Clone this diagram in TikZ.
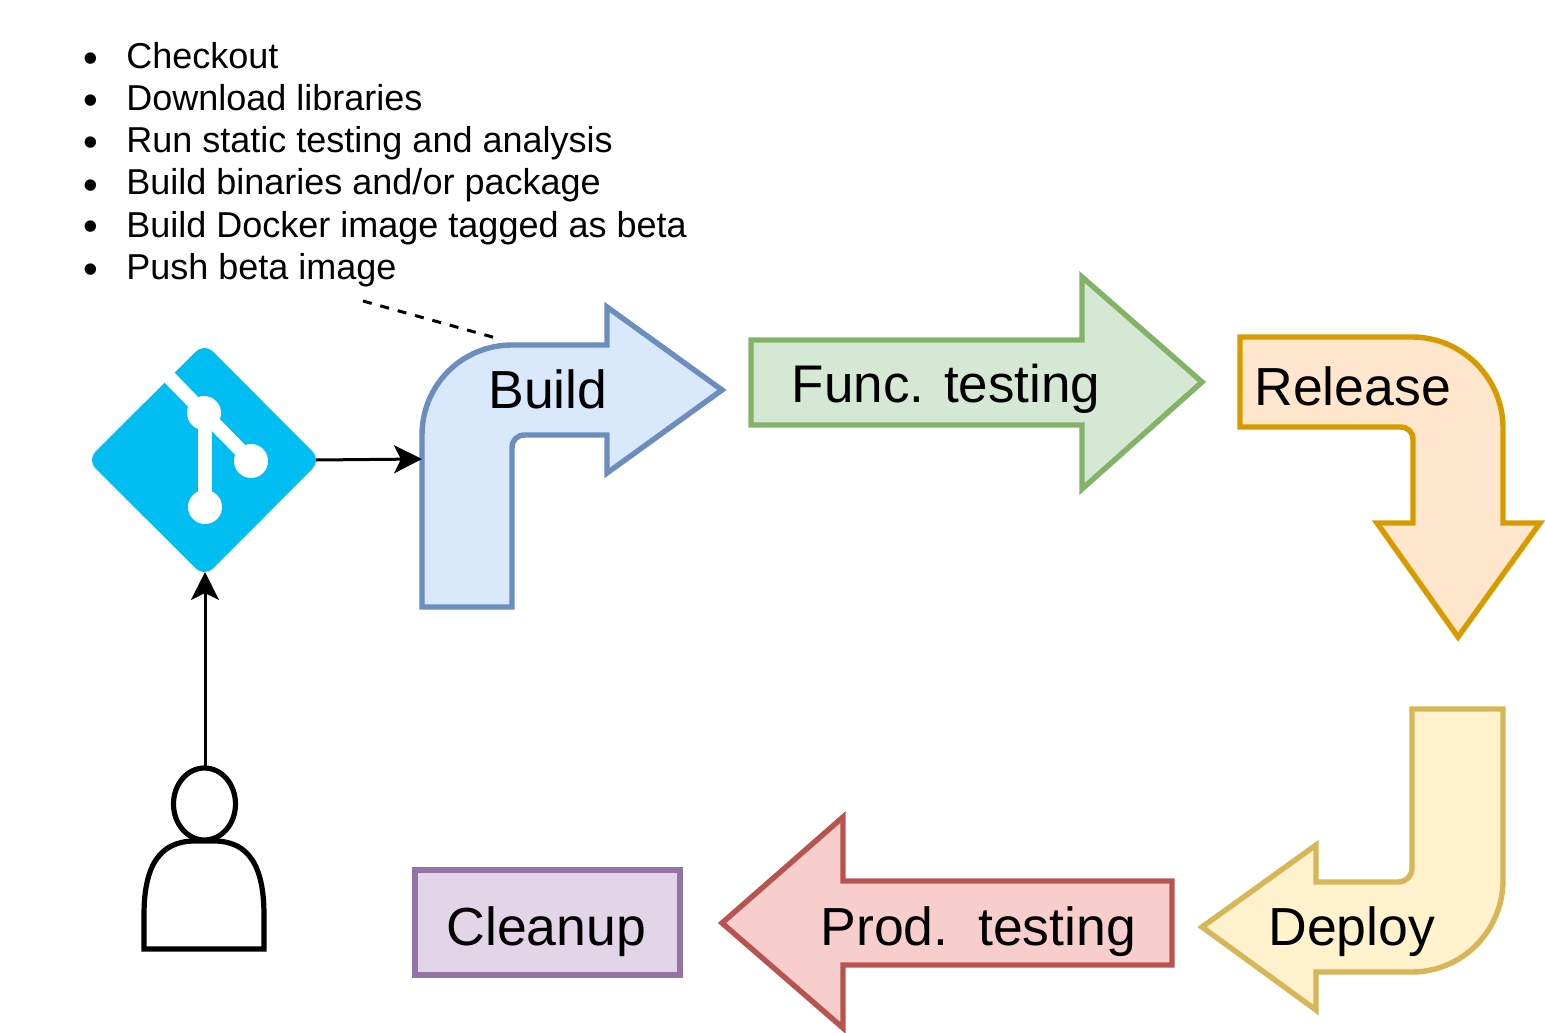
\documentclass[tikz,border=0pt]{standalone}
\usepackage{fontspec}
\setmainfont{Liberation Sans}
\usetikzlibrary{arrows.meta}
\definecolor{bluef}{HTML}{DAE8FC}\definecolor{blued}{HTML}{6C8EBF}
\definecolor{greenf}{HTML}{D5E8D4}\definecolor{greend}{HTML}{82B366}
\definecolor{orangef}{HTML}{FFE6CC}\definecolor{oranged}{HTML}{D79B00}
\definecolor{yellowf}{HTML}{FFF2CC}\definecolor{yellowd}{HTML}{D6B656}
\definecolor{redf}{HTML}{F8CECC}\definecolor{redd}{HTML}{B85450}
\definecolor{purplef}{HTML}{E1D5E7}\definecolor{purpled}{HTML}{9673A6}
\definecolor{gitblue}{HTML}{00BEF2}
\tikzset{
  shapeline/.style={line width=2.7pt,line join=miter,miter limit=10},
  biglabel/.style={anchor=base west,inner sep=0pt,font=\fontsize{26.8}{30}\selectfont},
  listlabel/.style={anchor=base west,inner sep=0pt,font=\fontsize{18}{21}\selectfont},
  bulletmark/.style={anchor=base,inner sep=0pt,font=\fontsize{21}{24}\selectfont},
  connector/.style={line width=1.5pt,-{Stealth[length=14pt,width=14pt,inset=3.5pt]}},
  note/.style={line width=1.5pt,dash pattern=on 4.5pt off 4.5pt}
}
\begin{document}
\begin{tikzpicture}[x=0.5pt,y=-0.5pt]
\useasboundingbox (0,0) rectangle (1545,1032);
% list
\foreach \i/\yy/\t in {1/69/{Checkout},2/111/{Download libraries},3/153/{Run static testing and analysis},4/195/{Build binaries and/or package},5/237/{Build Docker image tagged as beta},6/279/{Push beta image}}{
  \node[bulletmark] (b\i) at (91,\yy+4) {•};
  \node[listlabel] (l\i) at (126,\yy) {\t};
}
% build
\draw[shapeline,draw=blued,fill=bluef] (422,607) -- (422,435) .. controls (422,385) and (462,345) .. (512,345) -- (607,345) -- (607,307) -- (722,390) -- (607,473) -- (607,435) -- (525,435) .. controls (517,435) and (512,440) .. (512,448) -- (512,607) -- cycle;
\node[biglabel] (build) at (488,408) {Build};
% func
\draw[shapeline,draw=greend,fill=greenf] (751,340) -- (1082,340) -- (1082,277) -- (1202,382) -- (1082,489) -- (1082,425) -- (751,425) -- cycle;
\node[biglabel,font=\fontsize{26.5}{30}\selectfont] (func) at (791.5,402) {Func. testing};
% release
\draw[shapeline,draw=oranged,fill=orangef] (1240,337) -- (1412,337) .. controls (1462,337) and (1503,378) .. (1503,428) -- (1503,523) -- (1540,523) -- (1458,637) -- (1377,523) -- (1413,523) -- (1413,440) .. controls (1413,432) and (1408,427) .. (1400,427) -- (1240,427) -- cycle;
\node[biglabel] (release) at (1254,405) {Release};
% deploy
\draw[shapeline,draw=yellowd,fill=yellowf] (1412,709) -- (1503,709) -- (1503,880) .. controls (1503,931) and (1462,972) .. (1412,972) -- (1316,972) -- (1316,1010) -- (1202,927) -- (1316,845) -- (1316,882) -- (1398,882) .. controls (1406,882) and (1412,876) .. (1412,868) -- cycle;
\node[biglabel] (deploy) at (1268,945) {Deploy};
% prod
\draw[shapeline,draw=redd,fill=redf] (1172,881) -- (843,881) -- (843,817) -- (722,923) -- (843,1028) -- (843,965) -- (1172,965) -- cycle;
\node[biglabel] (prod) at (820,945) {Prod.\ \ testing};
% cleanup
\draw[shapeline,draw=purpled,fill=purplef] (415,870) rectangle (680,975);
\node[biglabel] (cleanup) at (446,945) {Cleanup};
% git logo
\fill[gitblue,rounded corners=6pt] (204.5,343) -- (321,460) -- (204.5,577) -- (87,460) -- cycle;
\begin{scope}[white]
  \draw[line width=7pt] (169,377) -- (204,413) -- (251,461);
  \draw[line width=7pt] (205,413) -- (205,507);
  \fill (204,413) circle [radius=8.5pt];
  \fill (251,461) circle [radius=8.5pt];
  \fill (205,507) circle [radius=8.5pt];
\end{scope}
% person
\draw[line width=2.6pt,fill=white] (144,949) -- (144,915) .. controls (144,865) and (160,841) .. (195,841) -- (214,841) .. controls (248,841) and (264,865) .. (264,915) -- (264,949) -- cycle;
\draw[line width=2.6pt,fill=white] (204.5,804) ellipse [x radius=15.5pt,y radius=18pt];
% connectors
\coordinate (gitE) at (316,460);
\coordinate (buildW) at (422,459);
\coordinate (personN) at (205,768);
\coordinate (gitS) at (205,572);
\coordinate (noteEnd) at (363,301);
\coordinate (buildT) at (496,338);
\draw[connector] (gitE) -- (buildW);
\draw[connector] (personN) -- (gitS);
\draw[note] (noteEnd) -- (buildT);
\end{tikzpicture}
\end{document}
